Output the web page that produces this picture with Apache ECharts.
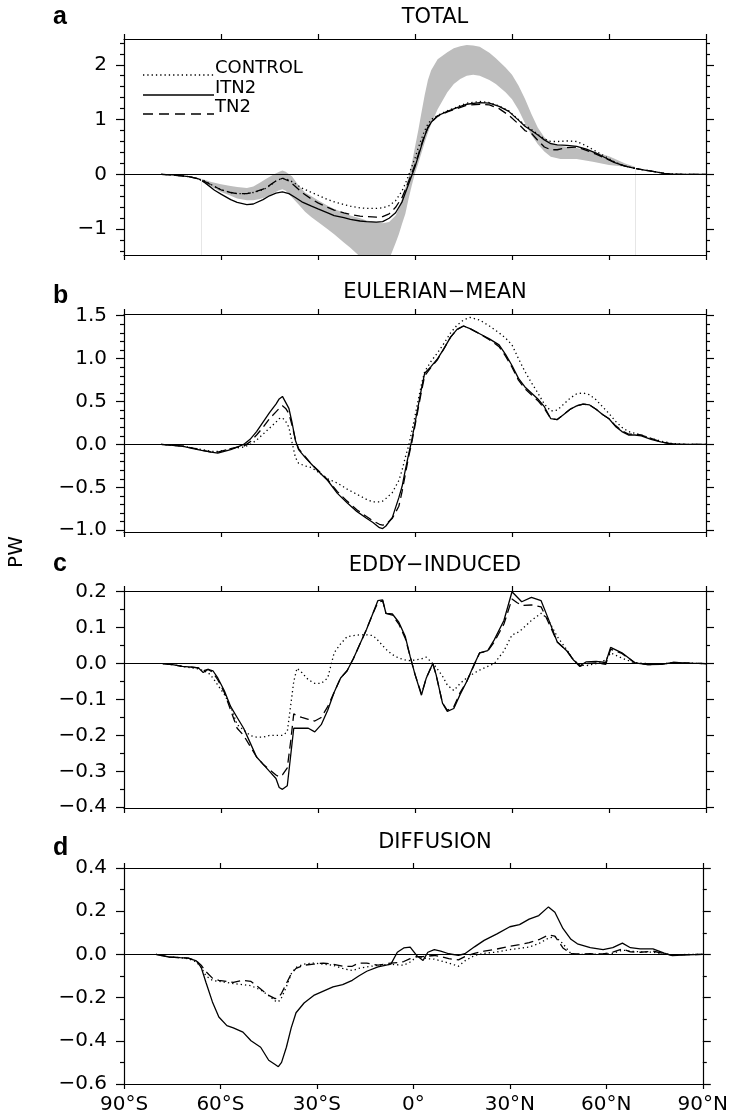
<!DOCTYPE html>
<html><head><meta charset="utf-8">
<script src="https://cdn.jsdelivr.net/npm/echarts@6/dist/echarts.min.js"></script>
<style>html,body{margin:0;padding:0;background:#fff}#c{width:731px;height:1119px}</style>
</head><body><div id="c"></div>
<script>
// ---------- DATA ----------
const X_TICKS = [-90, -60, -30, 0, 30, 60, 90];

// Panel a: TOTAL
const LAT_A = [-78.5,-75,-70,-67,-65,-62,-60,-57,-55,-52,
  -50,-47,-45,-43,-41,-39,-37,-35,-32,-30,
  -27,-25,-22,-20,-17,-15,-12,-10,-8,-6,
  -4,-3,-2,-1,0,1,2,3,4,5,
  7,10,13,16,20,23,26,29,32,34,
  36,38,40,42,44,47,50,53,56,59,
  62,65,68,71,74,77,80,85,90];
const TOTAL_ITN2 = [0,-0.01,-0.04,-0.08,-0.15,-0.29,-0.36,-0.46,-0.51,-0.55,
  -0.54,-0.46,-0.39,-0.34,-0.32,-0.35,-0.42,-0.50,-0.58,-0.63,
  -0.70,-0.75,-0.79,-0.82,-0.85,-0.86,-0.87,-0.86,-0.80,-0.70,
  -0.50,-0.34,-0.18,-0.02,0.14,0.33,0.52,0.70,0.85,0.95,
  1.07,1.15,1.22,1.28,1.31,1.30,1.24,1.15,0.99,0.88,
  0.80,0.72,0.63,0.56,0.54,0.53,0.51,0.46,0.39,0.30,
  0.21,0.15,0.11,0.08,0.05,0.02,0.005,0,0];
const TOTAL_TN2 = [0,-0.01,-0.04,-0.08,-0.13,-0.22,-0.28,-0.33,-0.35,-0.35,
  -0.33,-0.27,-0.20,-0.12,-0.07,-0.12,-0.22,-0.33,-0.45,-0.52,
  -0.60,-0.65,-0.70,-0.73,-0.76,-0.77,-0.78,-0.77,-0.72,-0.60,
  -0.42,-0.28,-0.13,0.02,0.18,0.36,0.55,0.72,0.86,0.95,
  1.06,1.14,1.20,1.26,1.28,1.27,1.20,1.08,0.92,0.80,
  0.75,0.62,0.50,0.45,0.45,0.49,0.50,0.44,0.37,0.29,
  0.21,0.15,0.11,0.08,0.05,0.02,0.005,0,0];
const TOTAL_CONTROL = [0,-0.01,-0.04,-0.08,-0.12,-0.22,-0.28,-0.33,-0.35,-0.35,
  -0.33,-0.28,-0.21,-0.12,-0.07,-0.10,-0.17,-0.25,-0.33,-0.38,
  -0.46,-0.50,-0.55,-0.58,-0.61,-0.62,-0.62,-0.61,-0.57,-0.48,
  -0.30,-0.17,-0.02,0.14,0.30,0.48,0.65,0.80,0.92,1.00,
  1.08,1.16,1.23,1.30,1.33,1.31,1.25,1.16,1.00,0.90,
  0.82,0.73,0.65,0.60,0.60,0.61,0.60,0.52,0.42,0.32,
  0.22,0.15,0.11,0.08,0.05,0.02,0.005,0,0];
// grey range (observational estimates)
const BAND_LAT = [-66,-63,-60,-57,-55,-52,-50,-48,-46,-44,
  -42,-41,-40,-38,-36,-34,-32,-30,-27,-25,
  -22,-20,-17,-15,-12,-10,-8,-6,-5,-4,
  -3,-2,-1,0,1,2,3,4,5,7,
  10,12,14,16,18,20,23,25,28,30,
  32,34,36,38,40,42,45,50,55,60,
  65,68];
const BAND_HIGH = [-0.08,-0.14,-0.18,-0.21,-0.23,-0.25,-0.22,-0.15,-0.08,-0.01,
  0.05,0.07,0.05,-0.04,-0.20,-0.33,-0.40,-0.47,-0.57,-0.63,
  -0.70,-0.75,-0.80,-0.84,-0.87,-0.89,-0.87,-0.75,-0.62,-0.45,
  -0.25,-0.05,0.20,0.50,0.80,1.13,1.45,1.72,1.90,2.10,
  2.23,2.30,2.34,2.36,2.35,2.33,2.22,2.12,1.95,1.82,
  1.62,1.38,1.10,0.85,0.68,0.58,0.52,0.48,0.42,0.33,
  0.20,0.14];
const BAND_LOW = [-0.12,-0.22,-0.32,-0.39,-0.44,-0.47,-0.47,-0.45,-0.41,-0.35,
  -0.29,-0.27,-0.30,-0.42,-0.55,-0.68,-0.78,-0.87,-1.00,-1.09,
  -1.24,-1.34,-1.50,-1.58,-1.62,-1.62,-1.55,-1.25,-1.09,-0.90,
  -0.72,-0.45,-0.20,0.02,0.20,0.39,0.58,0.76,0.92,1.19,
  1.50,1.65,1.74,1.80,1.82,1.80,1.72,1.65,1.50,1.37,
  1.18,0.94,0.72,0.55,0.42,0.32,0.28,0.28,0.23,0.17,
  0.14,0.12];

// Panel b: EULERIAN-MEAN
const LAT_B = [-78.5,-75,-72,-69,-66,-63,-61,-59,-57,-55,
  -53,-51,-49,-47,-45,-43,-42,-41,-40,-39,
  -38,-37,-36,-34,-32,-30,-27,-24,-21,-18,
  -15,-13,-11,-10,-9,-7,-5,-4,-3,-2,
  -1,0,1,2,3,5,7,9,11,13,
  15,17,20,23,26,28,30,32,34,36,
  38,40,42,44,46,48,50,52,54,56,
  58,60,62,64,66,68,70,73,76,79,
  82,86,90];
const EUL_ITN2 = [0,-0.01,-0.02,-0.045,-0.07,-0.09,-0.10,-0.08,-0.06,-0.03,
  0.0,0.06,0.15,0.26,0.37,0.47,0.53,0.56,0.49,0.42,
  0.25,0.05,-0.06,-0.15,-0.23,-0.31,-0.42,-0.57,-0.68,-0.78,
  -0.86,-0.91,-0.97,-0.98,-0.95,-0.85,-0.62,-0.49,-0.30,-0.12,
  0.05,0.25,0.45,0.65,0.83,0.91,1.00,1.12,1.25,1.34,
  1.38,1.35,1.29,1.23,1.16,1.05,0.92,0.77,0.67,0.60,
  0.53,0.44,0.30,0.29,0.35,0.41,0.45,0.47,0.46,0.41,
  0.35,0.30,0.21,0.15,0.11,0.11,0.10,0.06,0.03,0.008,
  0.002,0,0];
const EUL_TN2 = [0,-0.01,-0.02,-0.04,-0.065,-0.09,-0.09,-0.07,-0.05,-0.03,
  -0.02,0.03,0.11,0.20,0.30,0.38,0.42,0.45,0.42,0.36,
  0.22,0.06,-0.05,-0.14,-0.23,-0.30,-0.41,-0.55,-0.66,-0.76,
  -0.84,-0.89,-0.93,-0.94,-0.93,-0.86,-0.72,-0.55,-0.35,-0.15,
  0.02,0.22,0.42,0.62,0.80,0.90,0.99,1.12,1.25,1.34,
  1.38,1.35,1.29,1.22,1.14,1.03,0.90,0.75,0.65,0.58,
  0.51,0.42,0.30,0.29,0.35,0.41,0.45,0.47,0.46,0.41,
  0.35,0.30,0.22,0.16,0.12,0.12,0.11,0.07,0.03,0.01,
  0.002,0,0];
const EUL_CONTROL = [0,-0.01,-0.02,-0.04,-0.06,-0.08,-0.08,-0.07,-0.05,-0.04,
  -0.03,0.0,0.05,0.12,0.19,0.26,0.30,0.31,0.27,0.20,
  0.02,-0.15,-0.22,-0.25,-0.27,-0.32,-0.40,-0.45,-0.52,-0.58,
  -0.64,-0.67,-0.67,-0.66,-0.63,-0.56,-0.42,-0.30,-0.15,-0.02,
  0.15,0.33,0.52,0.70,0.85,0.97,1.07,1.18,1.30,1.39,
  1.45,1.48,1.45,1.38,1.30,1.24,1.16,1.00,0.85,0.72,
  0.60,0.47,0.39,0.40,0.47,0.54,0.59,0.60,0.58,0.52,
  0.44,0.36,0.27,0.20,0.15,0.13,0.11,0.07,0.04,0.015,
  0.004,0,0];

// Panel c: EDDY-INDUCED
const LAT_C = [-78,-75,-72,-69,-67,-65.5,-64,-62.5,-61,-59,
  -57,-55,-53,-51,-49,-47,-45,-43,-42,-41,
  -39.5,-38.5,-37.5,-36.5,-35,-33,-31,-29,-27,-25,
  -23,-21,-19,-17,-15,-13,-11.5,-10,-9,-7,
  -5,-3,-1.5,0,2,3.5,5.5,6.5,8.5,10,
  12,14,16,18,20,22.5,24.5,27.5,30,31.5,
  33,36,39,41,44,47,49,51,53,56,
  59,60.5,64,68,72,76,80,85,90];
const EDDY_ITN2 = [0,-0.003,-0.008,-0.01,-0.012,-0.025,-0.016,-0.02,-0.04,-0.075,
  -0.12,-0.15,-0.18,-0.22,-0.26,-0.28,-0.30,-0.32,-0.345,-0.35,
  -0.34,-0.26,-0.18,-0.18,-0.18,-0.18,-0.19,-0.17,-0.13,-0.08,
  -0.04,-0.02,0.015,0.055,0.095,0.14,0.175,0.177,0.14,0.138,
  0.115,0.075,0.02,-0.03,-0.088,-0.04,0.0,-0.03,-0.11,-0.133,
  -0.125,-0.085,-0.05,-0.008,0.03,0.036,0.066,0.12,0.2,0.186,
  0.172,0.184,0.175,0.13,0.06,0.035,0.01,-0.006,0.005,0.006,
  0.003,0.045,0.03,0.002,-0.003,-0.002,0.003,0.001,0];
const EDDY_TN2 = [0,-0.003,-0.008,-0.01,-0.012,-0.02,-0.016,-0.025,-0.045,-0.08,
  -0.13,-0.18,-0.20,-0.23,-0.26,-0.28,-0.295,-0.31,-0.315,-0.31,
  -0.29,-0.22,-0.14,-0.145,-0.15,-0.155,-0.16,-0.15,-0.12,-0.08,
  -0.04,-0.02,0.015,0.055,0.095,0.14,0.17,0.175,0.14,0.135,
  0.11,0.07,0.02,-0.03,-0.085,-0.04,0.0,-0.03,-0.11,-0.13,
  -0.12,-0.08,-0.05,-0.01,0.03,0.035,0.06,0.11,0.18,0.17,
  0.162,0.163,0.158,0.12,0.06,0.035,0.01,-0.008,0.0,0.002,
  -0.002,0.04,0.028,0.002,-0.003,-0.002,0.003,0.001,0];
const EDDY_CONTROL = [0,-0.003,-0.008,-0.012,-0.015,-0.02,-0.025,-0.04,-0.06,-0.085,
  -0.12,-0.17,-0.185,-0.20,-0.205,-0.205,-0.20,-0.20,-0.20,-0.20,
  -0.19,-0.12,-0.05,-0.013,-0.025,-0.045,-0.055,-0.055,-0.04,0.03,
  0.055,0.075,0.078,0.08,0.08,0.078,0.065,0.05,0.04,0.025,
  0.015,0.01,0.008,0.01,0.013,0.018,0.0,-0.01,-0.035,-0.06,
  -0.075,-0.055,-0.04,-0.028,-0.018,-0.008,0.0,0.035,0.08,0.085,
  0.095,0.12,0.14,0.125,0.075,0.038,0.01,-0.004,-0.006,0.0,
  0.01,0.03,0.015,0.002,0.0,-0.001,0.002,0.001,0];

// Panel d: DIFFUSION
const LAT_D = [-80,-76,-72.5,-70,-67.5,-66,-64.5,-62.5,-60.5,-58,
  -56,-53,-50.5,-47.5,-45,-43,-42,-41,-39.5,-38,
  -36.5,-34,-31,-28,-25,-22,-19,-17,-14.5,-11,
  -7,-5,-3,-1,1,3,4.5,6.5,8.5,11,
  14,16,19,22,26,30,33,36,39,42,
  44,46.5,49,51,55,59,62,65,67.5,70.5,
  74.5,78,80.5,85,90];
const DIFF_ITN2 = [0,-0.012,-0.015,-0.017,-0.03,-0.06,-0.13,-0.22,-0.29,-0.33,
  -0.34,-0.36,-0.40,-0.43,-0.49,-0.51,-0.52,-0.50,-0.43,-0.34,
  -0.27,-0.225,-0.19,-0.17,-0.15,-0.14,-0.12,-0.10,-0.078,-0.058,
  -0.045,0.01,0.03,0.034,-0.005,-0.028,0.01,0.022,0.015,0.003,
  -0.005,0.003,0.035,0.065,0.095,0.128,0.138,0.163,0.18,0.22,
  0.195,0.12,0.07,0.049,0.031,0.022,0.031,0.052,0.031,0.026,
  0.026,0.006,-0.006,-0.002,0];
const DIFF_TN2 = [0,-0.012,-0.015,-0.017,-0.03,-0.05,-0.08,-0.11,-0.12,-0.125,
  -0.13,-0.12,-0.125,-0.16,-0.19,-0.205,-0.2,-0.18,-0.135,-0.09,
  -0.065,-0.05,-0.045,-0.04,-0.045,-0.055,-0.055,-0.04,-0.04,-0.05,
  -0.04,-0.038,-0.033,-0.02,-0.01,-0.01,-0.008,-0.005,-0.01,-0.02,
  -0.025,-0.01,0.005,0.015,0.025,0.038,0.045,0.055,0.068,0.09,
  0.085,0.03,0.003,0.002,0.003,0.002,0.01,0.025,0.012,0.01,
  0.015,0.004,-0.004,-0.001,0];
const DIFF_CONTROL = [0,-0.012,-0.015,-0.02,-0.035,-0.06,-0.1,-0.12,-0.125,-0.13,
  -0.135,-0.14,-0.145,-0.165,-0.19,-0.215,-0.22,-0.2,-0.15,-0.09,
  -0.06,-0.045,-0.04,-0.045,-0.05,-0.065,-0.075,-0.065,-0.058,-0.05,
  -0.046,-0.048,-0.05,-0.035,-0.012,-0.015,-0.02,-0.022,-0.03,-0.04,
  -0.055,-0.03,-0.005,0.005,0.011,0.022,0.028,0.034,0.05,0.075,
  0.083,0.05,0.003,0.0,0.0,0.002,0.005,0.02,0.015,0.012,
  0.01,0.002,-0.003,0,0];

// tick values
const Y_MAJOR_A = [-1, 0, 1, 2];
const Y_MINOR_A = [-1.4,-1.2,-0.8,-0.6,-0.4,-0.2,0.2,0.4,0.6,0.8,1.2,1.4,1.6,1.8,2.2,2.4];
const Y_MAJOR_B = [-1, -0.5, 0, 0.5, 1, 1.5];
const Y_MINOR_B = [-0.9,-0.8,-0.7,-0.6,-0.4,-0.3,-0.2,-0.1,0.1,0.2,0.3,0.4,0.6,0.7,0.8,0.9,1.1,1.2,1.3,1.4];
const Y_MAJOR_C = [-0.4,-0.3,-0.2,-0.1,0,0.1,0.2];
const Y_MINOR_C = [-0.35,-0.25,-0.15,-0.05,0.05,0.15];
const Y_MAJOR_D = [-0.6,-0.4,-0.2,0,0.2,0.4];
const Y_MINOR_D = [-0.5,-0.3,-0.1,0.1,0.3];

const TITLES = ['TOTAL', 'EULERIAN\u2212MEAN', 'EDDY\u2212INDUCED', 'DIFFUSION'];
const LETTERS = ['a', 'b', 'c', 'd'];
const LEGEND_NAMES = ['CONTROL', 'ITN2', 'TN2'];

// ---------- BUILD ----------
const FONT = "'DejaVu Sans', 'Liberation Sans', sans-serif";
const BLACK = '#000';
const panels = [
  {lat: LAT_A, ctl: TOTAL_CONTROL, itn: TOTAL_ITN2, tn: TOTAL_TN2, top: 39, height: 216, min: -1.47, max: 2.47, maj: Y_MAJOR_A, mnr: Y_MINOR_A, dec: 0, titleY: 18, letterY: 17},
  {lat: LAT_B, ctl: EUL_CONTROL, itn: EUL_ITN2, tn: EUL_TN2, top: 314, height: 218, min: -1.02, max: 1.52, maj: Y_MAJOR_B, mnr: Y_MINOR_B, dec: 1, titleY: 293, letterY: 296},
  {lat: LAT_C, ctl: EDDY_CONTROL, itn: EDDY_ITN2, tn: EDDY_TN2, top: 591, height: 217, min: -0.402, max: 0.202, maj: Y_MAJOR_C, mnr: Y_MINOR_C, dec: 1, titleY: 566, letterY: 564},
  {lat: LAT_D, ctl: DIFF_CONTROL, itn: DIFF_ITN2, tn: DIFF_TN2, top: 868, height: 216, min: -0.6, max: 0.4, maj: Y_MAJOR_D, mnr: Y_MINOR_D, dec: 1, titleY: 843, letterY: 848}
];
const zip = (xs, ys) => xs.map((x, i) => [x, ys[i]]);
const latFmt = v => v < 0 ? (-v) + '°S' : (v > 0 ? v + '°N' : '0°');
const grid = [], xAxis = [], yAxis = [], series = [], graphic = [];
const axisLineStyle = {color: BLACK, width: 1.2};

panels.forEach((p, i) => {
  grid.push({left: 124, right: 25, top: p.top, height: p.height, containLabel: false});
  ['bottom', 'top'].forEach(pos => {
    xAxis.push({
      gridIndex: i, type: 'value', min: -90, max: 90, position: pos,
      axisLine: {show: true, onZero: false, lineStyle: axisLineStyle},
      axisTick: {show: true, length: 5, lineStyle: axisLineStyle, customValues: X_TICKS},
      axisLabel: {show: pos === 'bottom' && i === 3, customValues: X_TICKS, margin: 11, fontSize: 20, fontFamily: FONT, color: BLACK, formatter: latFmt},
      splitLine: {show: false}
    });
  });
  const fmt = v => (v < -1e-9 ? '\u2212' : '') + Math.abs(v).toFixed(p.dec);
  ['left', 'right'].forEach(pos => {
    yAxis.push({
      gridIndex: i, type: 'value', min: p.min, max: p.max, position: pos,
      axisLine: {show: true, onZero: false, lineStyle: axisLineStyle},
      axisTick: {show: true, length: 8, lineStyle: axisLineStyle, customValues: p.maj},
      axisLabel: {show: pos === 'left', customValues: p.maj, margin: 17, fontSize: 20, fontFamily: FONT, color: BLACK, formatter: fmt},
      splitLine: {show: false}
    });
    yAxis.push({
      gridIndex: i, type: 'value', min: p.min, max: p.max, position: pos,
      axisLine: {show: false, onZero: false},
      axisTick: {show: true, length: 4, lineStyle: axisLineStyle, customValues: p.mnr},
      axisLabel: {show: false},
      splitLine: {show: false}
    });
  });
  const xi = 2 * i, yi = 4 * i;
  if (i === 0) {
    // grey range drawn as one polygon through the library's coordinate system
    series.push({
      type: 'custom', xAxisIndex: xi, yAxisIndex: yi, silent: true, z: 1,
      data: BAND_LAT.map((x, k) => [x, BAND_LOW[k], BAND_HIGH[k]]),
      encode: {x: 0, y: [1, 2]},
      renderItem: (params, api) => {
        if (params.dataIndex !== 0) return null;
        const upper = BAND_LAT.map((x, k) => api.coord([x, BAND_HIGH[k]]));
        const lower = BAND_LAT.map((x, k) => api.coord([x, BAND_LOW[k]])).reverse();
        const cs = params.coordSys;
        return {
          type: 'group',
          children: [{
            type: 'polygon', shape: {points: upper.concat(lower)},
            style: {fill: '#bdbdbd', stroke: null}
          }],
          clipPath: {type: 'rect', shape: {x: cs.x, y: cs.y, width: cs.width, height: cs.height}}
        };
      },
      markLine: {silent: true, symbol: ['none', 'none'], label: {show: false},
        lineStyle: {color: '#e6e6e6', width: 1, type: 'solid'},
        data: [[{coord: [BAND_LAT[0], p.min]}, {coord: [BAND_LAT[0], BAND_HIGH[0]]}],
               [{coord: [BAND_LAT[BAND_LAT.length - 1], p.min]}, {coord: [BAND_LAT[BAND_LAT.length - 1], BAND_LOW[BAND_LOW.length - 1]]}]]}
    });
  }
  const base = {type: 'line', xAxisIndex: xi, yAxisIndex: yi, symbol: 'none', silent: true, z: 3};
  series.push(Object.assign({}, base, {
    name: 'CONTROL', data: zip(p.lat, p.ctl), lineStyle: {color: BLACK, width: 1.3, type: [1.3, 3]},
    markLine: {silent: true, symbol: ['none', 'none'], label: {show: false},
      lineStyle: {color: BLACK, width: 1.2, type: 'solid'}, data: [{yAxis: 0}]}
  }));
  series.push(Object.assign({}, base, {name: 'ITN2', data: zip(p.lat, p.itn), lineStyle: {color: BLACK, width: 1.3, type: 'solid'}}));
  series.push(Object.assign({}, base, {name: 'TN2', data: zip(p.lat, p.tn), lineStyle: {color: BLACK, width: 1.3, type: [9, 5]}}));

  graphic.push({type: 'text', x: 435, y: p.titleY, style: {text: TITLES[i], fill: BLACK, font: '21px ' + FONT, align: 'center', verticalAlign: 'middle'}});
  graphic.push({type: 'text', x: 53, y: p.letterY, style: {text: LETTERS[i], fill: BLACK, font: 'bold 25px "Liberation Sans", Arial, sans-serif', align: 'left', verticalAlign: 'middle'}});
});

// legend (panel a)
const legendDash = [[1.3, 3], null, [10, 6]];
const legendY = [75, 95, 114];
LEGEND_NAMES.forEach((n, k) => {
  graphic.push({type: 'line', shape: {x1: 143, y1: legendY[k], x2: 214, y2: legendY[k]},
    style: {stroke: BLACK, lineWidth: 1.3, lineDash: legendDash[k]}});
  graphic.push({type: 'text', x: 215, y: legendY[k] - 7, style: {text: n, fill: BLACK, font: '18px ' + FONT, align: 'left', verticalAlign: 'middle'}});
});
// y-axis unit
graphic.push({type: 'text', x: 17, y: 552, rotation: Math.PI / 2, style: {text: 'PW', fill: BLACK, font: '20px ' + FONT, align: 'center', verticalAlign: 'middle'}});

const chart = echarts.init(document.getElementById('c'), null, {renderer: 'canvas'});
chart.setOption({animation: false, backgroundColor: '#fff', grid, xAxis, yAxis, series, graphic});
</script></body></html>
